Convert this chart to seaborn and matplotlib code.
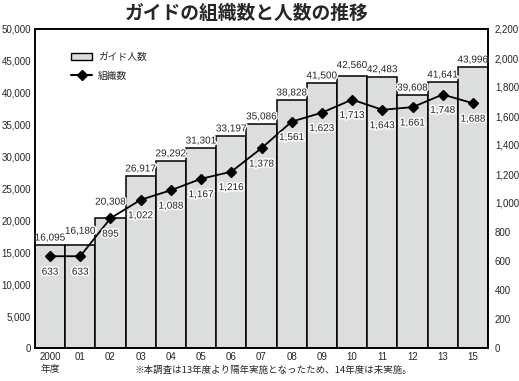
import matplotlib
matplotlib.use("Agg")
import matplotlib.pyplot as plt
import matplotlib.patheffects as pe
from matplotlib.ticker import FuncFormatter, MultipleLocator
from matplotlib.patches import Patch
from matplotlib.lines import Line2D
import seaborn as sns
import pandas as pd

years = ["2000\n年度", "01", "02", "03", "04", "05", "06", "07", "08", "09",
         "10", "11", "12", "13", "15"]
guides = [16095, 16180, 20308, 26917, 29292, 31301, 33197, 35086, 38828, 41500,
          42560, 42483, 39608, 41641, 43996]
orgs = [633, 633, 895, 1022, 1088, 1167, 1216, 1378, 1561, 1623,
        1713, 1643, 1661, 1748, 1688]

sns.set_theme(style="white")
plt.rcParams['font.family'] = ['Liberation Sans', 'Noto Sans CJK JP', 'DejaVu Sans']
numfam = ['Liberation Sans', 'DejaVu Sans']
jpfam = ['Noto Sans CJK JP', 'DejaVu Sans']

df = pd.DataFrame({"year": years, "guides": guides, "orgs": orgs})

fig = plt.figure(figsize=(5.19, 3.81), dpi=100)
ax = fig.add_axes([35/519, 33/381, (488-35)/519, (348-29)/381])

sns.barplot(data=df, x="year", y="guides", ax=ax, color="#dcdddd",
            saturation=1, width=1.0, edgecolor="black", linewidth=1.1)
ax.set_ylim(0, 50000)
ax.yaxis.set_major_locator(MultipleLocator(5000))
ax.yaxis.set_major_formatter(FuncFormatter(lambda v, p: f"{int(v):,}"))
ax.set_xlabel("")
ax.set_ylabel("")
ax.tick_params(axis="both", length=0, labelsize=7, pad=3)
for s in ax.spines.values():
    s.set_linewidth(1.2)
    s.set_color("black")

halo = [pe.withStroke(linewidth=2.2, foreground="white")]
# small extra lift for labels that would touch a neighbour or the line
lift = {1: 4.5, 2: 6.5, 10: 2.7}
for i, v in enumerate(guides):
    ax.annotate(f"{v:,}", (i, v), xytext=(0, 2 + lift.get(i, 0)),
                textcoords="offset points", ha="center", va="bottom",
                fontsize=7.2, family=numfam, path_effects=halo)

ax2 = ax.twinx()
sns.pointplot(data=df, x="year", y="orgs", ax=ax2, color="black",
              markers="D", markersize=5, linewidth=1.3)
ax2.set_ylim(0, 2200)
ax2.yaxis.set_major_locator(MultipleLocator(200))
ax2.yaxis.set_major_formatter(FuncFormatter(lambda v, p: f"{int(v):,}"))
ax2.set_ylabel("")
ax2.set_xlabel("")
ax2.tick_params(axis="y", length=0, labelsize=7, pad=5)
for s in ax2.spines.values():
    s.set_linewidth(1.2)
    s.set_color("black")
for i, v in enumerate(orgs):
    ax2.annotate(f"{v:,}", (i, v), xytext=(0, -7.5), textcoords="offset points",
                 ha="center", va="top", fontsize=7.2, family=numfam,
                 path_effects=halo)
ax.set_xlim(-0.5, len(years) - 0.5)
ax2.set_xlim(-0.5, len(years) - 0.5)
ax.tick_params(axis="x", labelsize=7)

handles = [Patch(facecolor="#dcdddd", edgecolor="black", linewidth=1.0),
           Line2D([0], [0], color="black", marker="D", markersize=5, linewidth=1.5)]
ax2.legend(handles, ["ガイド人数", "組織数"], loc="upper left",
           bbox_to_anchor=(0.06, 0.955), frameon=False,
           handlelength=2.2, labelspacing=0.9, handletextpad=0.6,
           prop={'family': jpfam, 'size': 7})

fig.text(0.475, 0.965, "ガイドの組織数と人数の推移", ha="center", va="center",
         fontsize=13.5, fontweight="bold", family=jpfam)
fig.text(0.527, 0.028, "※本調査は13年度より隔年実施となったため、14年度は未実施。",
         ha="center", va="center", fontsize=6.8, family=jpfam)

fig.savefig("out.png", dpi=100)
